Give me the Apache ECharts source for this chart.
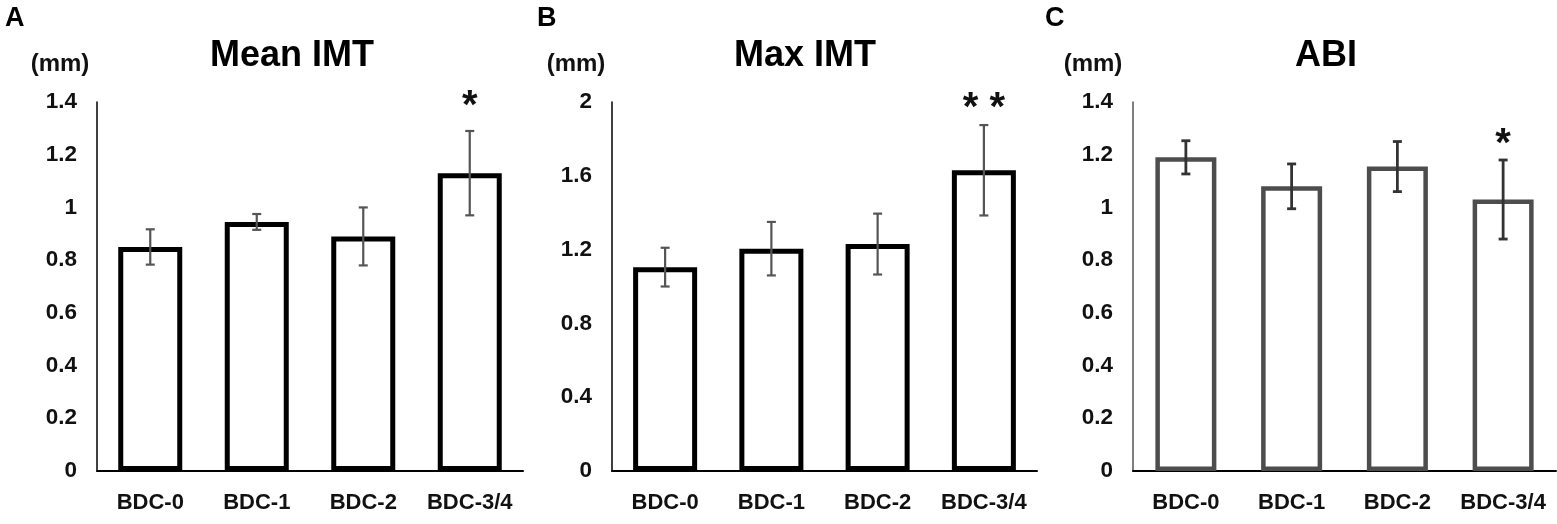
<!DOCTYPE html>
<html>
<head>
<meta charset="utf-8">
<script src="https://cdn.jsdelivr.net/npm/echarts@6/dist/echarts.min.js"></script>
<style>
html,body{margin:0;padding:0;background:#fff;}
#chart{width:1557px;height:524px;}
</style>
</head>
<body>
<div id="chart"></div>
<script>
// ---- data ----
const categories = ['BDC-0', 'BDC-1', 'BDC-2', 'BDC-3/4'];

const meanIMT = [0.85, 0.945, 0.89, 1.13];
const meanIMTErr = [0.067, 0.03, 0.11, 0.16];
const meanIMTSig = ['', '', '', '*'];

const maxIMT = [1.105, 1.205, 1.23, 1.63];
const maxIMTErr = [0.105, 0.145, 0.165, 0.245];
const maxIMTSig = ['', '', '', '* *'];

const abi = [1.19, 1.08, 1.155, 1.03];
const abiErr = [0.063, 0.085, 0.095, 0.15];
const abiSig = ['', '', '', '*'];

const panelTitles = ['Mean IMT', 'Max IMT', 'ABI'];
const panelLetters = ['A', 'B', 'C'];
const unitLabel = '(mm)';
const yMax = [1.4, 2, 1.4];
const yInterval = [0.2, 0.4, 0.2];

// ---- layout / style ----
const FONT = 'Liberation Sans, Arial, sans-serif';
const grids = [
  {left: 97, top: 102, width: 426, height: 369},
  {left: 612, top: 102, width: 425, height: 369},
  {left: 1133, top: 102, width: 423, height: 369}
];
const barWidths = [64, 64, 61];
const borderColors = ['#000', '#000', '#4d4d4d'];
const borderWidths = [5, 5, 4.5];
const errColors = ['#555', '#555', '#333'];
const errWidths = [2.2, 2.2, 2.8];
const axisColors = ['#000', '#000', '#555'];
const starOffset = [24, 16, 15];
const titleX = [287, 800, 1321];
const unitX = [55, 571, 1088];
const letterX = [0, 532, 1040];

const panels = [
  {vals: meanIMT, errs: meanIMTErr, sig: meanIMTSig},
  {vals: maxIMT, errs: maxIMTErr, sig: maxIMTSig},
  {vals: abi, errs: abiErr, sig: abiSig}
];

const chart = echarts.init(document.getElementById('chart'));

const titles = [];
const xAxes = [];
const yAxes = [];
const series = [];

panels.forEach((p, k) => {
  titles.push({text: panelTitles[k], left: titleX[k], top: 33, textAlign: 'center',
    textStyle: {fontFamily: FONT, fontWeight: 'bold', fontSize: 36, color: '#000'}});
  titles.push({text: unitLabel, left: unitX[k], top: 47, textAlign: 'center',
    textStyle: {fontFamily: FONT, fontWeight: 'bold', fontSize: 24, color: '#111'}});
  titles.push({text: panelLetters[k], left: letterX[k], top: 0,
    textStyle: {fontFamily: FONT, fontWeight: 'bold', fontSize: 27, color: '#000'}});

  xAxes.push({
    type: 'category', gridIndex: k, data: categories,
    axisLine: {show: true, lineStyle: {color: '#000', width: 2}},
    axisTick: {show: false},
    axisLabel: {interval: 0, fontFamily: FONT, fontWeight: 'bold', fontSize: 22, color: '#111', margin: 21}
  });
  yAxes.push({
    type: 'value', gridIndex: k, min: 0, max: yMax[k], interval: yInterval[k],
    axisLine: {show: true, lineStyle: {color: axisColors[k], width: 1.5}},
    axisTick: {show: false},
    splitLine: {show: false},
    axisLabel: {fontFamily: FONT, fontWeight: 'bold', fontSize: 22.5, color: '#111', margin: 20}
  });

  series.push({
    type: 'bar', xAxisIndex: k, yAxisIndex: k,
    data: p.vals,
    barWidth: barWidths[k],
    itemStyle: {color: '#fff', borderColor: borderColors[k], borderWidth: borderWidths[k]},
    silent: true
  });

  series.push({
    type: 'custom', xAxisIndex: k, yAxisIndex: k,
    data: p.vals.map((v, i) => [i, v, p.errs[i]]),
    z: 5, clip: false, silent: true,
    renderItem: function (params, api) {
      const i = api.value(0), v = api.value(1), e = api.value(2);
      const top = api.coord([i, v + e]);
      const bot = api.coord([i, v - e]);
      const cap = 4.5;
      const st = {stroke: errColors[k], lineWidth: errWidths[k]};
      const children = [
        {type: 'line', shape: {x1: top[0], y1: top[1], x2: bot[0], y2: bot[1]}, style: st},
        {type: 'line', shape: {x1: top[0] - cap, y1: top[1], x2: top[0] + cap, y2: top[1]}, style: st},
        {type: 'line', shape: {x1: bot[0] - cap, y1: bot[1], x2: bot[0] + cap, y2: bot[1]}, style: st}
      ];
      const s = p.sig[params.dataIndex];
      if (s) {
        children.push({type: 'text', x: top[0], y: top[1] - starOffset[k],
          style: {text: s, fill: '#111', fontFamily: FONT, fontWeight: 'bold', fontSize: 40,
            align: 'center', verticalAlign: 'middle'}});
      }
      return {type: 'group', children: children};
    }
  });
});

chart.setOption({
  animation: false,
  backgroundColor: '#fff',
  title: titles,
  grid: grids,
  xAxis: xAxes,
  yAxis: yAxes,
  series: series
});
</script>
</body>
</html>
